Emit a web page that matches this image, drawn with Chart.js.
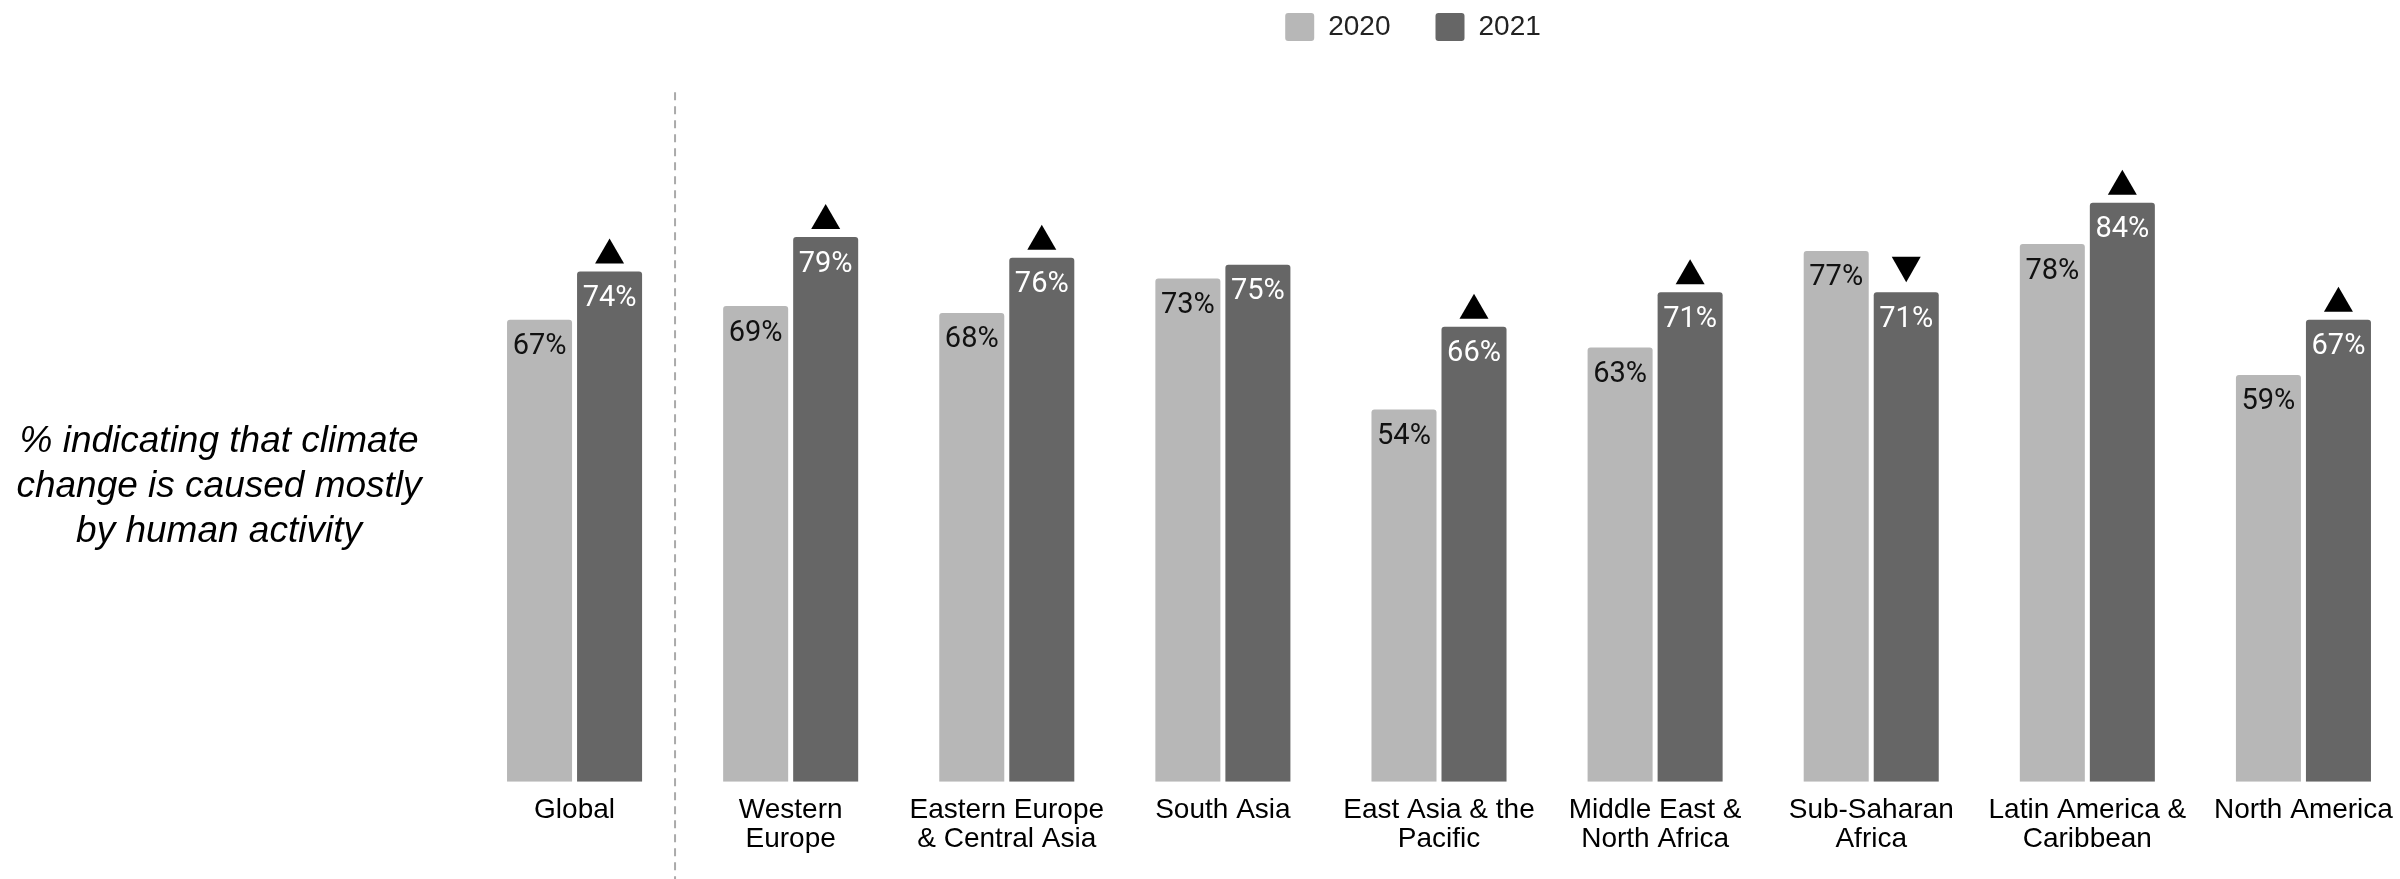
<!DOCTYPE html>
<html>
<head>
<meta charset="utf-8">
<script src="https://cdn.jsdelivr.net/npm/chart.js@4"></script>
<style>
    body { margin: 0; background: #fff; overflow: hidden; }
    /* canvas sits 32px above the page top so the legend hugs the edge */
    #wrap { position: relative; width: 2420px; height: 911px; margin-top: -32px; }
</style>
</head>
<body>
<div id="wrap"><canvas id="humanCauseChart"></canvas></div>
<script>
const regions = ['Global', ['Western', 'Europe'], ['Eastern Europe', '& Central Asia'], 'South Asia',
    ['East Asia & the', 'Pacific'], ['Middle East &', 'North Africa'], ['Sub-Saharan', 'Africa'],
    ['Latin America &', 'Caribbean'], 'North America']
const values2020 = [67, 69, 68, 73, 54, 63, 77, 78, 59]
const values2021 = [74, 79, 76, 75, 66, 71, 71, 84, 67]
// significant change 2020 -> 2021 ('' = no marker)
const changeMarks = ['up', 'up', 'up', '', 'up', 'up', 'down', 'up', 'up']
const yTicks = [0, 25, 50, 75, 100]
const yTickLabels = ['0%', ['25', '%'], ['50', '%'], ['75', '%'], ['10', '0%']]
const yTitleLines = ['% indicating that climate', 'change is caused mostly', 'by human activity']

Chart.defaults.font.family = '"Liberation Sans", Arial, sans-serif'

// percent labels inside the bar tops + change arrows over the 2021 bars
const barLabels = {
    id: 'barLabels',
    afterDatasetsDraw(chart) {
        const ctx = chart.ctx
        ctx.save()
        ctx.font = '29px Roboto'
        ctx.textAlign = 'center'
        ctx.textBaseline = 'alphabetic'
        chart.data.datasets.forEach((ds, di) => {
            const meta = chart.getDatasetMeta(di)
            meta.data.forEach((bar, i) => {
                ctx.fillStyle = di === 0 ? '#111' : '#fff'
                ctx.fillText(ds.data[i] + '%', bar.x, bar.y + 34.5)
            })
        })
        const bars2021 = chart.getDatasetMeta(1).data
        ctx.fillStyle = '#000'
        changeMarks.forEach((mark, i) => {
            const bar = bars2021[i]
            if (!mark) return
            ctx.beginPath()
            if (mark === 'up') {
                ctx.moveTo(bar.x - 14.5, bar.y - 8)
                ctx.lineTo(bar.x + 14.5, bar.y - 8)
                ctx.lineTo(bar.x, bar.y - 33)
            } else {
                ctx.moveTo(bar.x - 14.5, bar.y - 35.5)
                ctx.lineTo(bar.x + 14.5, bar.y - 35.5)
                ctx.lineTo(bar.x, bar.y - 10)
            }
            ctx.closePath()
            ctx.fill()
        })
        ctx.restore()
    }
}

// dashed divider after "Global" and the horizontal y title on the left
const extras = {
    id: 'extras',
    afterDraw(chart) {
        const ctx = chart.ctx
        const x = chart.scales.x.getPixelForValue(0.465)
        const top = chart.scales.y.getPixelForValue(100)
        ctx.save()
        ctx.strokeStyle = '#aaaaaa'
        ctx.lineWidth = 2
        ctx.setLineDash([8, 6])
        ctx.beginPath()
        ctx.moveTo(x, top)
        ctx.lineTo(x, chart.height)
        ctx.stroke()
        ctx.setLineDash([])
        ctx.fillStyle = '#000'
        ctx.font = 'italic 37px "Liberation Sans"'
        ctx.textAlign = 'center'
        ctx.textBaseline = 'alphabetic'
        yTitleLines.forEach((line, i) => {
            ctx.fillText(line, 219, 484 + i * 45)
        })
        ctx.restore()
    }
}

const ctx = document.getElementById('humanCauseChart')
const humanCauseChart = new Chart(ctx, {
    type: 'bar',
    data: {
        labels: regions,
        datasets: [
            {
                label: '2020',
                data: values2020,
                backgroundColor: '#b7b7b7',
                borderWidth: 0,
                borderRadius: 3,
                categoryPercentage: 0.648,
                barPercentage: 0.9286,
            },
            {
                label: '2021',
                data: values2021,
                backgroundColor: '#666666',
                borderWidth: 0,
                borderRadius: 3,
                categoryPercentage: 0.648,
                barPercentage: 0.9286,
            },
        ],
    },
    options: {
        responsive: true,
        maintainAspectRatio: false,
        animation: false,
        layout: {
            padding: { top: 0, left: 414.5, right: 8.5, bottom: 0 }
        },
        plugins: {
            legend: {
                position: 'top',
                labels: {
                    boxWidth: 29,
                    boxHeight: 28,
                    useBorderRadius: true,
                    borderRadius: 3,
                    padding: 45,
                    color: '#222',
                    font: { size: 28 },
                },
            },
            tooltip: { enabled: false },
        },
        scales: {
            x: {
                grid: { display: false, drawTicks: false },
                border: { display: false },
                ticks: {
                    color: '#000',
                    padding: 14,
                    maxRotation: 0,
                    autoSkip: false,
                    font: { size: 28, lineHeight: 1.04 },
                },
                afterFit: (scale) => { scale.height = 97.3 },
            },
            y: {
                min: 0,
                max: 106,
                grid: { display: false, drawTicks: false },
                border: { display: false },
                afterBuildTicks: (scale) => {
                    scale.ticks = yTicks.map((v) => ({ value: v }))
                },
                ticks: {
                    color: '#f0f0f0',
                    padding: 53.5,
                    font: { size: 28, lineHeight: 0.97 },
                    callback: (value) => yTickLabels[yTicks.indexOf(value)],
                },
                afterFit: (scale) => { scale.width = 52 },
            },
        },
    },
    plugins: [barLabels, extras],
})
</script>
</body>
</html>
